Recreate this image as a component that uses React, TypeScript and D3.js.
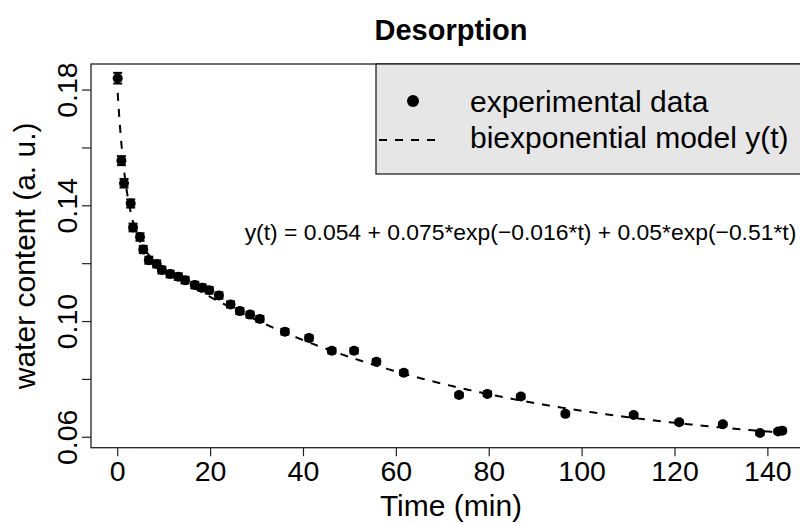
import React from "react";
import * as d3 from "d3";

const times = [0, 0.8, 1.36, 2.8, 3.3, 4.8, 5.5, 6.7, 8.4, 9.5, 11.3, 13.05, 14.5, 16.6, 18.2, 19.7, 21.8, 24.3, 26.3, 28.5, 30.6, 36.0, 41.2, 46.1, 50.9, 55.7, 61.6, 73.5, 79.6, 86.8, 96.4, 111.1, 120.9, 130.3, 138.3, 142.2, 143.1];
const water = [0.1841, 0.1556, 0.1478, 0.1408, 0.1325, 0.1292, 0.1249, 0.1212, 0.1199, 0.1178, 0.1164, 0.1155, 0.1143, 0.1126, 0.1117, 0.1108, 0.109, 0.1059, 0.1036, 0.1024, 0.1009, 0.0965, 0.0943, 0.0899, 0.0899, 0.0861, 0.0823, 0.0746, 0.075, 0.0741, 0.0681, 0.0677, 0.0652, 0.0645, 0.0615, 0.062, 0.0623];
const REL_ERR = 0.01;

const modelCoef = { c: 0.054, a1: 0.075, k1: 0.016, a2: 0.05, k2: 0.51 };
const xTicks = [0, 20, 40, 60, 80, 100, 120, 140];
const yTicks = [0.06, 0.08, 0.1, 0.12, 0.14, 0.16, 0.18];
const yTickLabels = ["0.06", "", "0.10", "", "0.14", "", "0.18"];
const titleText = "Desorption";
const xLabel = "Time (min)";
const yLabel = "water content (a. u.)";
const legendLabels = ["experimental data", "biexponential model y(t)"];
const equationText = "y(t) = 0.054 + 0.075*exp(\u22120.016*t) + 0.05*exp(\u22120.51*t)";

const FONT = "'Liberation Sans', Arial, Helvetica, sans-serif";

export default function App() {
  const W = 800, H = 523;
  const left = 91, right = 812, top = 64, bottom = 447.7;
  const x = d3.scaleLinear().domain([-5.75, 149.5]).range([left, right]);
  const y = d3.scaleLinear().domain([0.0564, 0.189]).range([bottom, top]);

  const model = (t: number) =>
    modelCoef.c + modelCoef.a1 * Math.exp(-modelCoef.k1 * t) + modelCoef.a2 * Math.exp(-modelCoef.k2 * t);
  const tGrid = d3.range(0, 143.6, 0.2).concat([143.6]);
  const line = d3.line<number>().x((t) => x(t)).y((t) => y(model(t)));
  const curvePath = line(tGrid) || "";

  const pts = times.map((t, i) => ({ t, v: water[i] }));

  return (
    <svg width={W} height={H} style={{ position: "absolute", left: 0, top: 0, background: "#fff" }} fontFamily={FONT}>
      <rect x={0} y={0} width={W} height={H} fill="#fff" />
      {/* title */}
      <text x={451} y={40} textAnchor="middle" fontSize={29} fontWeight="bold">{titleText}</text>

      {/* plot box */}
      <rect x={left} y={top} width={right - left} height={bottom - top} fill="none" stroke="#222" strokeWidth={1.3} />

      {/* x axis ticks */}
      {xTicks.map((t) => (
        <g key={"xt" + t}>
          <line x1={x(t)} x2={x(t)} y1={bottom} y2={bottom + 8.5} stroke="#222" strokeWidth={1.2} />
          <text x={x(t)} y={481} textAnchor="middle" fontSize={28.5}>{t}</text>
        </g>
      ))}
      {/* y axis ticks */}
      {yTicks.map((v, i) => (
        <g key={"yt" + i}>
          <line x1={left - 9} x2={left} y1={y(v)} y2={y(v)} stroke="#222" strokeWidth={1.2} />
          {yTickLabels[i] && (
            <text transform={`translate(77,${y(v)}) rotate(-90)`} textAnchor="middle" fontSize={28.5}>{yTickLabels[i]}</text>
          )}
        </g>
      ))}

      {/* axis labels */}
      <text x={451} y={516} textAnchor="middle" fontSize={30}>{xLabel}</text>
      <text transform={`translate(35,${(top + bottom) / 2}) rotate(-90)`} textAnchor="middle" fontSize={30}>{yLabel}</text>

      {/* legend */}
      <rect x={376} y={top} width={right - 376} height={110} fill="#e6e6e6" stroke="#111" strokeWidth={1.2} />
      <circle cx={413} cy={101} r={6} fill="#000" />
      <line x1={379} x2={438} y1={140} y2={140} stroke="#000" strokeWidth={2} strokeDasharray="8,8" />
      <text x={470} y={112} fontSize={30}>{legendLabels[0]}</text>
      <text x={470} y={148} fontSize={30}>{legendLabels[1]}</text>

      {/* equation */}
      <text x={520.5} y={240} textAnchor="middle" fontSize={22.9}>{equationText}</text>

      {/* model curve */}
      <path d={curvePath} fill="none" stroke="#000" strokeWidth={2} strokeDasharray="8,8" />

      {/* error bars and points */}
      {pts.map((p, i) => {
        const e = p.v * REL_ERR;
        const cx = x(p.t);
        return (
          <g key={"p" + i}>
            <line x1={cx} x2={cx} y1={y(p.v - e)} y2={y(p.v + e)} stroke="#000" strokeWidth={2} />
            <line x1={cx - 4.5} x2={cx + 4.5} y1={y(p.v - e)} y2={y(p.v - e)} stroke="#000" strokeWidth={2} />
            <line x1={cx - 4.5} x2={cx + 4.5} y1={y(p.v + e)} y2={y(p.v + e)} stroke="#000" strokeWidth={2} />
            <circle cx={cx} cy={y(p.v)} r={5} fill="#000" />
          </g>
        );
      })}
    </svg>
  );
}
